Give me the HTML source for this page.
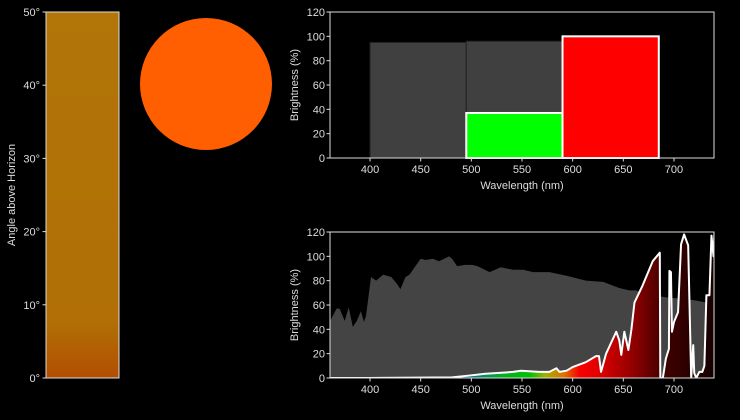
<!DOCTYPE html>
<html><head><meta charset="utf-8"><style>
html,body{margin:0;padding:0;background:#000;}
svg{display:block;font-family:"Liberation Sans","DejaVu Sans",sans-serif;}
text{fill:#ddd;font-size:11px;}
</style></head><body>
<svg id="chart" width="740" height="420" viewBox="0 0 740 420" xmlns="http://www.w3.org/2000/svg">
<defs>
<linearGradient id="skyGrad" x1="0" y1="0" x2="0" y2="1">
<stop offset="0" stop-color="#b17508"/><stop offset="0.85" stop-color="#b16f05"/><stop offset="1" stop-color="#b24e02"/>
</linearGradient>
<linearGradient id="specGrad" gradientUnits="userSpaceOnUse" x1="330" y1="0" x2="714" y2="0">
<stop offset="0" stop-color="#202040"/>
<stop offset="0.32" stop-color="#2020a0"/>
<stop offset="0.38" stop-color="#008080"/>
<stop offset="0.45" stop-color="#00b020"/>
<stop offset="0.52" stop-color="#00c000"/>
<stop offset="0.56" stop-color="#a0b000"/>
<stop offset="0.61" stop-color="#e07000"/>
<stop offset="0.65" stop-color="#f80000"/>
<stop offset="0.70" stop-color="#e00000"/>
<stop offset="0.79" stop-color="#900000"/>
<stop offset="0.87" stop-color="#400000"/>
<stop offset="1" stop-color="#150000"/>
</linearGradient>
</defs>
<g>
<rect x="46" y="12" width="73" height="366" fill="url(#skyGrad)" stroke="#ddd" stroke-width="1"/>
<text transform="translate(15,195) rotate(-90)" text-anchor="middle">Angle above Horizon</text>
</g>
<circle cx="206" cy="84" r="66" fill="#ff5f00"/>
<g id="top"></g>
<g id="bot"></g>
<g id="left"></g>
</svg>
<script>
const angleTicks=[0,10,20,30,40,50];
const xTicks=[400,450,500,550,600,650,700];
const yTicks=[0,20,40,60,80,100,120];
const bandStarts=[400,495,590];
const bandWidth=95;
const skyBand=[95,96,0];
const sunBand=[0,37,100];
const bandColors=['#0000ff','#00ff00','#ff0000'];
const skyWl=[360,367,370,375,379,383,387,391,394,396,401,406,413,421,427,430,435,439,444,450,455,462,468,478,481,486,494,501,506,518,529,541,551,561,577,594,613,630,646,656,662,679,695,712,740];
const skyVal=[46,57,57,47,58,42,47,55,46,51,83,80,85,83,77,73,83,85,91,98,97,98,96,100,98,92,93,93,92,87,91,89,89,87,87,84,80,79,74,72,72,68,66,65,61];
const sunWl=[360,400,481,498,514,524,541,549,567,577,584,587,594,600,613,623,626,628,633,643,646,648,651,655,658,661,669,679,686,686.5,689,692,695,695.5,697,698,700,704,707,710,714,717,719,720,722,725,728,730,732,735,737,739,740];
const sunVal=[0,0,0.5,2,3.5,4,5,6,5,5,8,5,6,9,13,18,18,5,20,38,31,19,38,23,40,62,76,96,103,0,0,16,24,88,87,38,46,54,110,118,109,0,27,4,0,5,5,10,68,68,117,100,120];
const NS='http://www.w3.org/2000/svg';
function mk(p,t,a){const e=document.createElementNS(NS,t);for(const k in a)e.setAttribute(k,a[k]);p.appendChild(e);return e;}
const X0=330,X1=714,XMIN=360.5,XMAX=739.5;
const xs=v=>X0+(v-XMIN)/(XMAX-XMIN)*(X1-X0);
function axes(g,top,bot){
  const ys=v=>bot-v/120*(bot-top);
  return ys;
}
function frame(g,top,bot,ys,pre){
  const f=mk(g,'rect',{x:X0,y:top,width:X1-X0,height:bot-top,fill:'none',stroke:'#ddd','stroke-width':1});
  
  
  xTicks.forEach(v=>{
    const l=mk(g,'line',{x1:xs(v),x2:xs(v),y1:bot,y2:bot+3.5,stroke:'#ddd'});
    
    
    const t=mk(g,'text',{x:xs(v),y:bot+15,'text-anchor':'middle'});t.textContent=v;
    
    
  });
  yTicks.forEach(v=>{
    const l=mk(g,'line',{x1:X0-3.5,x2:X0,y1:ys(v),y2:ys(v),stroke:'#ddd'});
    
    
    const t=mk(g,'text',{x:X0-5,y:ys(v)+4,'text-anchor':'end'});t.textContent=v;
    
    
  });
  const xt=mk(g,'text',{x:(X0+X1)/2,y:bot+31,'text-anchor':'middle'});xt.textContent='Wavelength (nm)';
  
  
  const yt=mk(g,'text',{transform:`translate(298,${(top+bot)/2}) rotate(-90)`,'text-anchor':'middle'});yt.textContent='Brightness (%)';
  
  
}
// top chart
const gt=document.getElementById('top');
const ysT=axes(gt,12,158);
bandStarts.forEach((s,i)=>{
  const r=mk(gt,'rect',{x:xs(s),y:ysT(skyBand[i]),width:xs(s+bandWidth)-xs(s),height:ysT(0)-ysT(skyBand[i]),fill:'#404040',stroke:'#222','stroke-width':1});
  
  
});
bandStarts.forEach((s,i)=>{
  const r=mk(gt,'rect',{x:xs(s),y:ysT(sunBand[i]),width:xs(s+bandWidth)-xs(s),height:ysT(0)-ysT(sunBand[i]),fill:bandColors[i],stroke:'#fff','stroke-width':2});
  
  
});
frame(gt,12,158,ysT,'top');
// bottom chart
const gb=document.getElementById('bot');
const ysB=axes(gb,232,378);
const clip=mk(gb,'clipPath',{id:'clipB'});mk(clip,'rect',{x:X0,y:232,width:X1-X0,height:146});
const inner=mk(gb,'g',{'clip-path':'url(#clipB)'});
let d='M'+xs(skyWl[0])+','+ysB(0);
skyWl.forEach((w,i)=>d+=' L'+xs(w)+','+ysB(skyVal[i]));
d+=' L'+xs(skyWl[skyWl.length-1])+','+ysB(0)+'Z';
const sa=mk(inner,'path',{d:d,fill:'#444'});


let p='';sunWl.forEach((w,i)=>p+=(i?' L':'M')+xs(w)+','+ysB(sunVal[i]));
const sf=mk(inner,'path',{d:p+' L'+xs(sunWl[sunWl.length-1])+','+ysB(0)+' L'+xs(sunWl[0])+','+ysB(0)+'Z',fill:'url(#specGrad)'});


const sl=mk(inner,'path',{d:p,fill:'none',stroke:'#fff','stroke-width':2,'stroke-linejoin':'round'});


frame(gb,232,378,ysB,'bottom');
// left axis
const gl=document.getElementById('left');
const ya=v=>378-v/50*366;
angleTicks.forEach(v=>{
  const l=mk(gl,'line',{x1:42.5,x2:46,y1:ya(v),y2:ya(v),stroke:'#ddd'});
  
  
  const t=mk(gl,'text',{x:40,y:ya(v)+4,'text-anchor':'end'});t.textContent=v+'°';
  
  
});
</script>
</body></html>
